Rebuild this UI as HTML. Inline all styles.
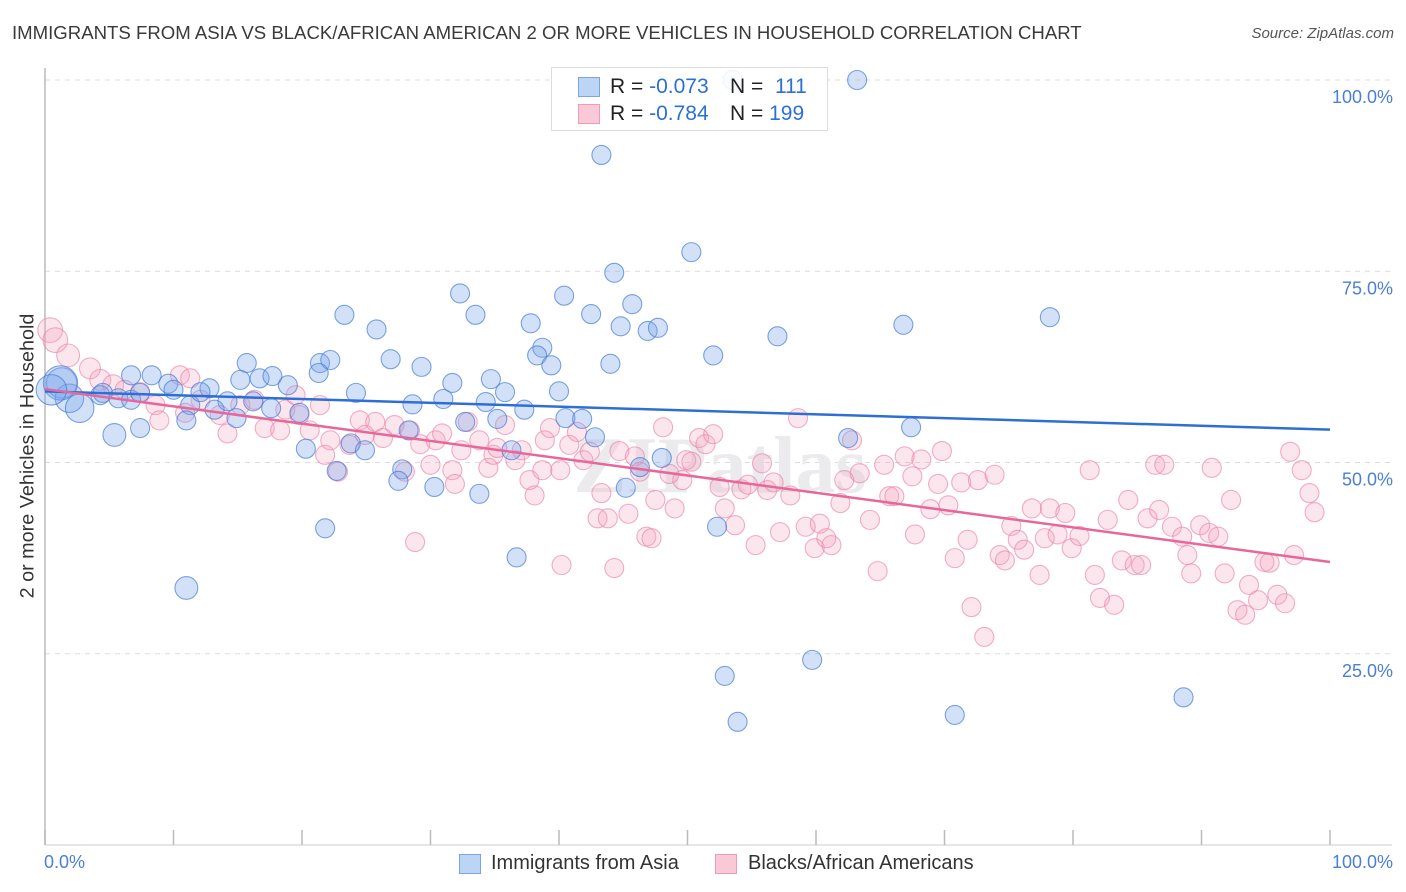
<!DOCTYPE html>
<html><head><meta charset="utf-8">
<style>
body{margin:0;background:#fff;font-family:"Liberation Sans",sans-serif;}
#wrap{position:relative;width:1406px;height:892px;overflow:hidden;}
.t{position:absolute;white-space:nowrap;}
</style></head>
<body>
<div id="wrap">
<div class="t" style="left:12px;top:22px;font-size:18.6px;color:#3a3a3a;">IMMIGRANTS FROM ASIA VS BLACK/AFRICAN AMERICAN 2 OR MORE VEHICLES IN HOUSEHOLD CORRELATION CHART</div>
<div class="t" style="right:12px;top:25px;font-size:15px;color:#555;font-style:italic;">Source: ZipAtlas.com</div>
<svg id="chart" width="1406" height="892" style="position:absolute;left:0;top:0"></svg>
</div>
<script>
const yTicks=[25,50,75,100];
const yTickLabels=["25.0%","50.0%","75.0%","100.0%"];
const xTickVals=[0,10,20,30,40,50,60,70,80,90,100];
const blueX=[63.2,53.5,43.3,50.3,44.3,32.3,40.4,45.7,23.3,33.5,42.5,37.8,44.8,25.8,46.9,47.7,66.8,78.2,57,38.7,38.3,52,26.9,44,39.4,15.7,21.4,22.2,29.3,21.3,6.7,8.3,15.2,16.7,17.7,18.9,34.7,31.7,24.2,12.8,40,35.8,31,28.6,34.3,37.3,9.6,10,1.3,1.9,2.7,4.3,5.7,6.7,7.4,11.3,14.2,16.2,17.6,19.8,32.7,35.2,40.5,41.8,42.8,36.3,23.8,24.9,28.3,20.3,22.7,27.8,27.5,30.3,33.8,46.3,45.2,48,62.5,67.4,11,7.4,5.4,21.8,36.7,52.3,11,52.9,59.7,53.9,70.8,88.6,4.5,1.2,0.5,13.2,14.9,12.1];
const blueY=[100,100,90.2,77.5,74.8,72.1,71.8,70.7,69.3,69.3,69.4,68.2,67.8,67.4,67.2,67.6,68,69,66.5,65,64,64,63.5,62.9,62.7,63,63,63.4,62.5,61.7,61.4,61.4,60.8,61,61.3,60.1,60.9,60.4,59.1,59.7,59.3,59.2,58.3,57.6,57.9,56.9,60.3,59.5,60.4,58.4,57.1,58.8,58.4,58.2,59.1,57.5,58,58,57.1,56.5,55.3,55.7,55.8,55.7,53.3,51.6,52.5,51.6,54.2,51.8,48.9,49.1,47.6,46.8,45.9,49.4,46.7,50.6,53.2,54.6,55.5,54.5,53.6,41.4,37.6,41.6,33.6,22.1,24.2,16.1,17,19.3,59.1,60.4,59.5,56.9,55.8,59.2];
const blueSize=[1,1,1,1,1,1,1,1,1,1,1,1,1,1,1,1,1,1,1,1,1,1,1,1,1,1,1,1,1,1,1,1,1,1,1,1,1,1,1,1,1,1,1,1,1,1,1,1,1.6,1.5,1.5,1,1,1,1,1,1,1,1,1,1,1,1,1,1,1,1,1,1,1,1,1,1,1,1,1,1,1,1,1,1,1,1.2,1,1,1,1.2,1,1,1,1,1,1,1.8,1.6,1,1,1];
const pinkX=[0.4,0.8,1.8,3.5,4.3,5.3,6.2,7.4,8.6,10.5,11.3,8.9,10.9,12.1,13.6,14.2,15.2,16.3,17.1,18.3,18.7,19.5,19.8,20.6,21.4,21.8,22.2,22.8,23.7,24.5,24.9,25.7,26.3,27.2,28,28.4,28.8,29.2,30,30.4,30.9,31.7,31.9,32.4,32.9,33.8,34.5,34.9,35.2,35.8,36.6,37.1,37.7,38.1,38.7,38.9,39.3,40.1,40.2,40.8,41.4,41.9,42.4,43,43.3,43.8,44.3,44.7,45.4,45.9,46.3,46.8,47.2,47.5,48.1,48.6,49,49.6,49.9,50.3,50.9,51.4,52,52.5,52.9,53.7,54.2,54.7,55.3,55.8,56.2,56.7,57.2,58,58.6,59.2,59.9,60.3,60.8,61.2,61.9,62.2,62.8,63.4,64.2,64.8,65.3,65.7,66.1,66.9,67.5,67.7,68.2,68.9,69.5,69.8,70.3,70.8,71.3,71.8,72.1,72.6,73.1,73.9,74.3,74.7,75.2,75.7,76.2,76.8,77.4,77.8,78.2,78.8,79.4,79.9,80.5,81.3,81.7,82.1,82.7,83.2,83.8,84.3,84.8,85.3,85.8,86.4,86.7,87.1,87.7,88.5,88.9,89.2,89.9,90.6,90.8,91.3,91.8,92.3,92.8,93.4,93.7,94.4,94.9,95.3,95.9,96.5,96.9,97.2,97.8,98.4,98.8,99.2,100,77.4];
const pinkY=[67.3,66,64,62.3,60.8,60.1,59.5,59.2,57.5,61.4,61,55.5,56.5,58.2,56.2,53.8,57.5,58.2,54.5,54.2,56.9,58.8,56.2,54.2,57.5,51,52.9,48.8,52.3,55.5,53.6,55.3,53.2,54.9,48.8,54.2,39.6,52.4,49.7,52.9,53.8,49,47.2,51.6,55.3,52.9,49.3,51,51.9,54.9,50.3,51.6,47.7,45.7,49,52.9,54.5,49,36.6,52.3,54,50.3,51.4,42.7,46,42.7,36.2,51.5,43.3,50.8,48.8,40.3,40.1,45.1,54.6,48.5,44,47.7,50.3,50.1,53.2,52.4,53.7,46.8,44,41.8,46.5,47.1,39.2,49.9,46.4,47.4,40.9,45.7,55.8,41.6,38.8,42,40.1,39.2,44.7,47.7,52.9,48.6,42.5,35.8,49.7,45.6,45.6,50.8,48.2,40.6,50.4,43.9,47.2,51.5,44.4,37.5,47.4,39.9,31.1,47.7,27.2,48.4,37.9,37.2,41.7,39.9,38.6,44,35.3,40.1,44,40.6,43.4,38.8,40.4,49,35.3,32.3,42.5,31.4,37.2,45.1,36.6,36.6,42.7,49.7,43.8,49.7,41.6,40.3,37.9,35.5,41.8,40.8,49.3,40.3,35.5,45.1,30.7,30.1,34,32,37,36.9,32.7,31.6,51.4,37.9,49,46,43.5,56.6,50.3,55.3];
const pinkSize=[1.3,1.3,1.2,1.1,1.1,1.1,1,1,1,1,1,1,1,1,1,1,1,1,1,1,1,1,1,1,1,1,1,1,1,1,1,1,1,1,1,1,1,1,1,1,1,1,1,1,1,1,1,1,1,1,1,1,1,1,1,1,1,1,1,1,1,1,1,1,1,1,1,1,1,1,1,1,1,1,1,1,1,1,1,1,1,1,1,1,1,1,1,1,1,1,1,1,1,1,1,1,1,1,1,1,1,1,1,1,1,1,1,1,1,1,1,1,1,1,1,1,1,1,1,1,1,1,1,1,1,1,1,1,1,1,1,1,1,1,1,1,1,1,1,1,1,1,1,1,1,1,1,1,1,1,1,1,1,1,1,1,1,1,1,1,1,1,1,1,1,1,1,1,1,1,1,1,1];
const blueTrend=[59.3,54.3];
const pinkTrend=[59.6,37.0];

const svg=document.getElementById('chart');
const NS='http://www.w3.org/2000/svg';
const X0=45,X1=1330,Y0=845,Y100=80;
const sx=v=>X0+(X1-X0)*v/100;
const sy=v=>Y0-(Y0-Y100)*v/100;
function mk(tag,attrs,parent){const e=document.createElementNS(NS,tag);for(const k in attrs)e.setAttribute(k,attrs[k]);(parent||svg).appendChild(e);return e;}

yTicks.forEach((v,i)=>{
  const g=mk('line',{x1:X0,x2:1392,y1:sy(v),y2:sy(v),stroke:'#dcdcdc','stroke-dasharray':'5,5','stroke-width':1});
  
  
  const t=mk('text',{x:1393,y:sy(v)+23,'text-anchor':'end','font-size':18,fill:'#4a7fd4','font-family':'Liberation Sans, sans-serif'});
  t.textContent=yTickLabels[i];
  
  
});
const ya=mk('line',{x1:X0,x2:X0,y1:68,y2:Y0,stroke:'#bbb','stroke-width':1.5});


const xa=mk('line',{x1:X0,x2:1392,y1:Y0,y2:Y0,stroke:'#ccc','stroke-width':1});


xTickVals.forEach(v=>{
  const tk=mk('line',{x1:sx(v),x2:sx(v),y1:830,y2:Y0,stroke:'#bbb','stroke-width':1.5});
  
  
});
const wm=mk('text',{x:720,y:492,'text-anchor':'middle','font-size':80,fill:'#ebebee','font-family':'Liberation Serif, serif','font-weight':'bold'});
wm.textContent='ZIPatlas';



function dots(xs,ys,ss,fill,stroke,name){
  xs.forEach((x,i)=>{
    const c=mk('circle',{cx:sx(x),cy:sy(ys[i]),r:9.5*ss[i],fill:fill,stroke:stroke,'stroke-width':1.1});
    
    
  });
}
dots(pinkX,pinkY,pinkSize,'rgba(244,160,188,0.26)','rgba(236,130,165,0.65)','pink-point');
dots(blueX,blueY,blueSize,'rgba(120,165,235,0.33)','rgba(70,125,215,0.7)','blue-point');
const bl=mk('line',{x1:sx(0),x2:sx(100),y1:sy(blueTrend[0]),y2:sy(blueTrend[1]),stroke:'#2d6fd6','stroke-width':2.5});


const pl=mk('line',{x1:sx(0),x2:sx(100),y1:sy(pinkTrend[0]),y2:sy(pinkTrend[1]),stroke:'#e8679a','stroke-width':2.5});


</script>
<div class="t" style="left:28px;top:456px;font-size:19.8px;color:#333;transform:translate(-50%,-50%) rotate(-90deg);">2 or more Vehicles in Household</div>
<div class="t" style="left:44px;top:852px;font-size:18px;color:#4a7fd4;">0.0%</div>
<div class="t" style="right:13px;top:852px;font-size:18px;color:#4a7fd4;">100.0%</div>
<div style="position:absolute;left:551px;top:67px;width:275px;height:62px;border:1px solid #ddd;background:rgba(255,255,255,0.88);font-size:21px;">
 <div style="position:absolute;left:26px;top:9px;width:20px;height:18px;background:#bcd4f6;border:1px solid #7aa4e4;"></div>
 <div class="t" style="left:58px;top:7px;color:#222;">R = <span style="color:#2d6fd6">-0.073</span></div>
 <div class="t" style="left:178px;top:7px;color:#222;">N = &nbsp;<span style="color:#2d6fd6">111</span></div>
 <div style="position:absolute;left:26px;top:36px;width:20px;height:18px;background:#fac9d8;border:1px solid #ef9ab6;"></div>
 <div class="t" style="left:58px;top:34px;color:#222;">R = <span style="color:#2d6fd6">-0.784</span></div>
 <div class="t" style="left:178px;top:34px;color:#222;">N = <span style="color:#2d6fd6">199</span></div>
</div>
<div style="position:absolute;left:459px;top:852px;font-size:20px;color:#333;">
 <div style="position:absolute;left:0;top:0;width:240px;height:24px;">
  <div style="position:absolute;left:0;top:2px;width:20px;height:18px;background:#bcd4f6;border:1px solid #7aa4e4;"></div>
  <div class="t" style="left:32px;top:0;">Immigrants from Asia</div>
 </div>
 <div style="position:absolute;left:256px;top:0;width:280px;height:24px;">
  <div style="position:absolute;left:0;top:2px;width:20px;height:18px;background:#fac9d8;border:1px solid #ef9ab6;"></div>
  <div class="t" style="left:33px;top:0;">Blacks/African Americans</div>
 </div>
</div>
</body></html>
